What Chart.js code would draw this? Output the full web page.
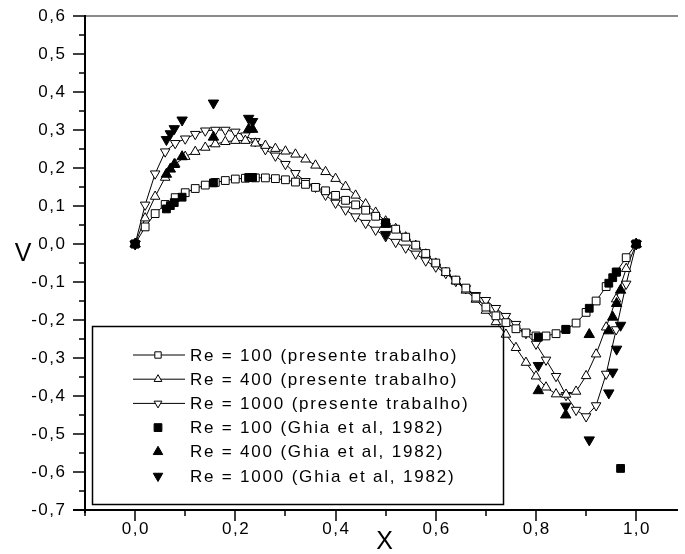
<!DOCTYPE html>
<html><head><meta charset="utf-8">
<script src="https://cdn.jsdelivr.net/npm/chart.js@4.4.0/dist/chart.umd.min.js"></script>
<style>html,body{margin:0;padding:0;background:#fff;}#wrap{width:685px;height:554px;position:relative;}</style>
</head><body><div id="wrap"><canvas id="c" width="685" height="554"></canvas></div>
<script>
// ---- data ----
const xGrid = [0,0.02,0.04,0.06,0.08,0.10,0.12,0.14,0.16,0.18,0.20,0.22,0.24,0.26,0.28,0.30,0.32,0.34,0.36,0.38,0.40,0.42,0.44,0.46,0.48,0.50,0.52,0.54,0.56,0.58,0.60,0.62,0.64,0.66,0.68,0.70,0.72,0.74,0.76,0.78,0.80,0.82,0.84,0.86,0.88,0.90,0.92,0.94,0.96,0.98,1.00];
const v100 = [0,0.045,0.080,0.104,0.122,0.135,0.146,0.155,0.162,0.167,0.171,0.173,0.174,0.174,0.172,0.169,0.163,0.157,0.149,0.140,0.128,0.115,0.103,0.089,0.073,0.056,0.039,0.018,-0.003,-0.025,-0.050,-0.073,-0.095,-0.116,-0.140,-0.166,-0.189,-0.207,-0.223,-0.234,-0.242,-0.242,-0.236,-0.225,-0.208,-0.180,-0.150,-0.112,-0.074,-0.036,0];
const v400 = [0,0.068,0.125,0.175,0.210,0.230,0.243,0.254,0.263,0.269,0.272,0.272,0.265,0.259,0.251,0.244,0.236,0.223,0.207,0.190,0.172,0.151,0.128,0.105,0.083,0.060,0.040,0.018,-0.004,-0.027,-0.051,-0.075,-0.098,-0.122,-0.146,-0.175,-0.205,-0.238,-0.273,-0.312,-0.348,-0.377,-0.395,-0.396,-0.388,-0.347,-0.290,-0.219,-0.145,-0.065,0];
const v1000 = [0,0.103,0.185,0.243,0.265,0.277,0.289,0.298,0.300,0.300,0.295,0.285,0.270,0.249,0.232,0.210,0.186,0.165,0.150,0.129,0.108,0.090,0.072,0.055,0.037,0.020,0.005,-0.010,-0.026,-0.044,-0.060,-0.077,-0.098,-0.117,-0.135,-0.148,-0.169,-0.190,-0.211,-0.235,-0.263,-0.305,-0.348,-0.398,-0.437,-0.454,-0.425,-0.342,-0.225,-0.105,0];
const xGhia = [0,0.0625,0.0703,0.0781,0.0938,0.1563,0.2266,0.2344,0.5,0.8047,0.8594,0.9063,0.9453,0.9531,0.9609,0.9688,1.0];
const ghia100 = [0,0.09233,0.10091,0.10890,0.12317,0.16077,0.17507,0.17527,0.05454,-0.24533,-0.22445,-0.16914,-0.10313,-0.08864,-0.07391,-0.5906,0];
const ghia400 = [0,0.18360,0.19713,0.20920,0.22965,0.28124,0.30203,0.30174,0.05186,-0.38598,-0.44993,-0.23827,-0.22847,-0.19254,-0.15663,-0.12146,0];
const ghia1000 = [0,0.27485,0.29012,0.30353,0.32627,0.37095,0.33075,0.32235,0.02526,-0.31966,-0.42665,-0.51550,-0.39188,-0.33714,-0.27669,-0.21388,0];
const seriesLabels = ['Re = 100 (presente trabalho)','Re = 400 (presente trabalho)','Re = 1000 (presente trabalho)','Re = 100 (Ghia et al, 1982)','Re = 400 (Ghia et al, 1982)','Re = 1000 (Ghia et al, 1982)'];
const xTickValues = [0,0.2,0.4,0.6,0.8,1.0];
const xTickLabels = ['0,0','0,2','0,4','0,6','0,8','1,0'];
const yTickValues = [0.6,0.5,0.4,0.3,0.2,0.1,0,-0.1,-0.2,-0.3,-0.4,-0.5,-0.6,-0.7];
const yTickLabels = ['0,6','0,5','0,4','0,3','0,2','0,1','0,0','-0,1','-0,2','-0,3','-0,4','-0,5','-0,6','-0,7'];
const xMinorValues = [-0.1,0.1,0.3,0.5,0.7,0.9];
const yMinorValues = [0.55,0.45,0.35,0.25,0.15,0.05,-0.05,-0.15,-0.25,-0.35,-0.45,-0.55,-0.65];
const xTitle = 'X', yTitle = 'V';

const pts = (xs, ys) => xs.map((x, i) => ({x: x, y: ys[i]}));
const FONT = "'Liberation Sans', Arial, sans-serif";

function drawMarker(ctx, style, rot, r, x, y, filled) {
  ctx.save();
  ctx.beginPath();
  if (style === 'rect') {
    const s = Math.SQRT1_2 * r;
    ctx.rect(x - s, y - s, 2 * s, 2 * s);
  } else {
    let a = rot * Math.PI / 180;
    ctx.moveTo(x + Math.sin(a) * r, y - Math.cos(a) * r);
    a += 2 * Math.PI / 3;
    ctx.lineTo(x + Math.sin(a) * r, y - Math.cos(a) * r);
    a += 2 * Math.PI / 3;
    ctx.lineTo(x + Math.sin(a) * r, y - Math.cos(a) * r);
    ctx.closePath();
  }
  ctx.fillStyle = filled ? '#000' : '#fff';
  ctx.fill();
  ctx.lineWidth = 1;
  ctx.strokeStyle = '#000';
  ctx.stroke();
  ctx.restore();
}

function spacedText(ctx, txt, x, y, spacing, align) {
  ctx.save();
  if ('letterSpacing' in ctx) {
    ctx.letterSpacing = spacing + 'px';
    const w = ctx.measureText(txt).width - spacing;
    ctx.textAlign = 'left';
    let sx = align === 'right' ? x - w : align === 'center' ? x - w / 2 : x;
    ctx.fillText(txt, sx, y);
  } else {
    ctx.textAlign = align;
    ctx.fillText(txt, x, y);
  }
  ctx.restore();
}

const axesPlugin = {
  id: 'axesPlugin',
  afterDraw(chart) {
    const {ctx, chartArea: ca, scales} = chart;
    const xs = scales.x, ys = scales.y;
    ctx.save();
    // top border
    ctx.strokeStyle = '#8a8a8a'; ctx.lineWidth = 2;
    ctx.beginPath(); ctx.moveTo(ca.left, ca.top); ctx.lineTo(ca.right, ca.top); ctx.stroke();
    ctx.strokeStyle = '#000';
    // y axis
    ctx.lineWidth = 2;
    ctx.beginPath(); ctx.moveTo(ca.left, ca.top - 1); ctx.lineTo(ca.left, ca.bottom + 3); ctx.stroke();
    // x axis
    ctx.beginPath(); ctx.moveTo(ca.left - 12, ca.bottom); ctx.lineTo(ca.right, ca.bottom); ctx.stroke();
    // ticks
    ctx.lineWidth = 1.5;
    yTickValues.forEach(v => { const p = Math.round(ys.getPixelForValue(v)); ctx.beginPath(); ctx.moveTo(ca.left - 12, p); ctx.lineTo(ca.left, p); ctx.stroke(); });
    yMinorValues.forEach(v => { const p = Math.round(ys.getPixelForValue(v)); ctx.beginPath(); ctx.moveTo(ca.left - 6, p); ctx.lineTo(ca.left, p); ctx.stroke(); });
    xTickValues.forEach(v => { const p = Math.round(xs.getPixelForValue(v)); ctx.beginPath(); ctx.moveTo(p, ca.bottom); ctx.lineTo(p, ca.bottom + 11); ctx.stroke(); });
    xMinorValues.forEach(v => { const p = Math.round(xs.getPixelForValue(v)); ctx.beginPath(); ctx.moveTo(p, ca.bottom); ctx.lineTo(p, ca.bottom + 6); ctx.stroke(); });
    // tick labels
    ctx.fillStyle = '#000';
    ctx.font = '17px ' + FONT;
    ctx.textBaseline = 'middle';
    yTickValues.forEach((v, i) => spacedText(ctx, yTickLabels[i], ca.left - 20, ys.getPixelForValue(v), 1.5, 'right'));
    xTickValues.forEach((v, i) => spacedText(ctx, xTickLabels[i], xs.getPixelForValue(v), ca.bottom + 19, 1.5, 'center'));
    // titles
    ctx.font = '25px ' + FONT;
    spacedText(ctx, xTitle, (ca.left + ca.right) / 2 + 3, ca.bottom + 32, 0, 'center');
    spacedText(ctx, yTitle, 23, ys.getPixelForValue(0) + 10, 0, 'center');
    // legend
    const L = {x: 92, y: 326, w: 411, h: 178};
    ctx.lineWidth = 1.5; ctx.strokeStyle = '#000';
    ctx.strokeRect(L.x + 0.5, L.y + 0.5, L.w, L.h);
    ctx.font = '17px ' + FONT;
    chart.data.datasets.forEach((ds) => {
      const k = ds.legendIndex;
      const cy = L.y + 29 + k * 24.2;
      if (ds.showLine) {
        ctx.lineWidth = 1; ctx.strokeStyle = '#000';
        ctx.beginPath(); ctx.moveTo(133, cy); ctx.lineTo(185, cy); ctx.stroke();
        drawMarker(ctx, ds.pointStyle, ds.pointRotation || 0, 4.5, 158, cy, false);
      } else {
        drawMarker(ctx, ds.pointStyle, ds.pointRotation || 0, 5.5, 158, cy, true);
      }
      ctx.fillStyle = '#000';
      spacedText(ctx, ds.label, 190, cy + 1, 1.8, 'left');
    });
    ctx.restore();
  }
};

const hollow = {borderColor: '#000', borderWidth: 1, pointBackgroundColor: '#fff', pointBorderColor: '#000', pointBorderWidth: 1, showLine: true, tension: 0, order: 1};
const solid = {showLine: false, pointBackgroundColor: '#000', pointBorderColor: '#000', pointBorderWidth: 1, order: 0};

new Chart(document.getElementById('c'), {
  type: 'scatter',
  data: {
    datasets: [
      Object.assign({label: seriesLabels[3], legendIndex: 3, data: pts(xGhia, ghia100), pointStyle: 'rect', pointRadius: 5.5}, solid),
      Object.assign({label: seriesLabels[4], legendIndex: 4, data: pts(xGhia, ghia400), pointStyle: 'triangle', pointRadius: 6}, solid),
      Object.assign({label: seriesLabels[5], legendIndex: 5, data: pts(xGhia, ghia1000), pointStyle: 'triangle', pointRotation: 180, pointRadius: 6}, solid),
      Object.assign({label: seriesLabels[0], legendIndex: 0, data: pts(xGrid, v100), pointStyle: 'rect', pointRadius: 5.5}, hollow),
      Object.assign({label: seriesLabels[1], legendIndex: 1, data: pts(xGrid, v400), pointStyle: 'triangle', pointRadius: 5.5}, hollow),
      Object.assign({label: seriesLabels[2], legendIndex: 2, data: pts(xGrid, v1000), pointStyle: 'triangle', pointRotation: 180, pointRadius: 5.5}, hollow)
    ]
  },
  options: {
    responsive: false,
    animation: false,
    devicePixelRatio: 1,
    layout: {padding: {left: 85, top: 16, right: 0, bottom: 44}},
    plugins: {legend: {display: false}, tooltip: {enabled: false}},
    scales: {
      x: {type: 'linear', min: -0.1, max: 1.0834, display: false},
      y: {type: 'linear', min: -0.7, max: 0.6, display: false}
    },
    elements: {point: {hoverRadius: 5.5}}
  },
  plugins: [axesPlugin]
});
</script></body></html>
